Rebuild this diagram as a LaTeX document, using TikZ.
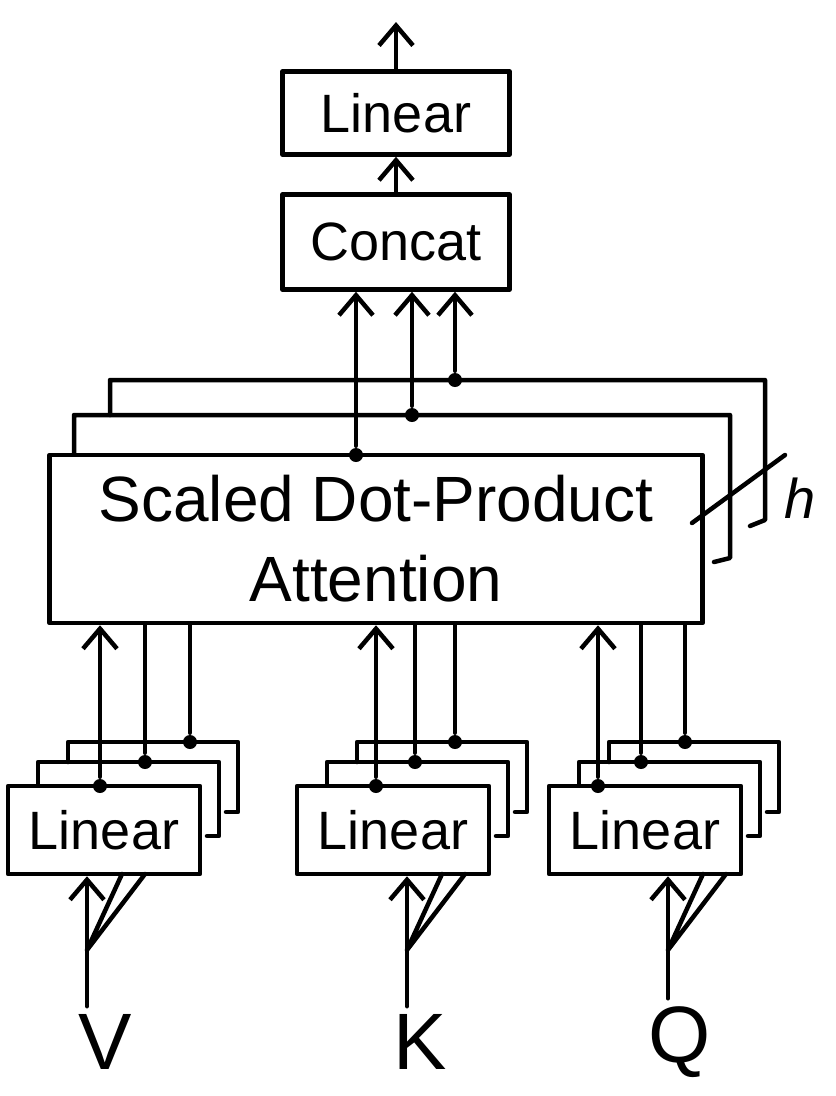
\documentclass[tikz,border=0pt]{standalone}
\usepackage{fontspec}
\setmainfont{Liberation Sans}
\usetikzlibrary{arrows.meta}
\begin{document}
\begin{tikzpicture}[x=1pt, y=-1pt, line width=4.5pt, line cap=round, line join=round,
        boxstyle/.style={draw, fill=white, inner sep=0pt, font=\fontsize{54}{60}\selectfont},
        arrowstyle/.style={-{Straight Barb[length=20pt, width=34pt]}},
        dotstyle/.style={circle, fill, inner sep=0pt, minimum size=14pt}]
            \useasboundingbox (0,0) rectangle (836,1096);

            \node[boxstyle, minimum width=227pt, minimum height=83pt] (linout) at (396,113) {Linear};
            \node[boxstyle, minimum width=227pt, minimum height=95pt] (concat) at (396,242) {Concat};
            \coordinate (out) at (396,22);
            \draw[arrowstyle] (linout) -- (out);
            \draw[arrowstyle] (concat) -- (linout);

            \draw (110,415) |- (765,380) -- (765,520) -- (750,526);
            \draw (74,455) |- (730,415) -- (730,558) -- (714,562);
            \node[boxstyle, minimum width=653pt, minimum height=168pt, align=center,
                font=\fontsize{64}{80}\selectfont] (sdpa) at (376,539) {Scaled Dot-Product\\Attention};
            \draw (692,523) -- (785,455);
            \node[font=\fontsize{56}{60}\selectfont\itshape] (heads) at (800,498) {h};

            \foreach \i/\x/\y in {1/356/455, 2/412/415, 3/455/380}{
                    \node[dotstyle] (s\i) at (\x,\y) {};
                    \draw[arrowstyle] (s\i) -- (s\i |- concat.south);
                }

            \foreach \n/\cx/\ax/\bx/\ccx/\inx/\lx/\lab in {v/104/100/145/190/87/105/V, k/393/376/415/455/407/420/K, q/645/598/641/685/668/680/Q}{
                    \draw ({\cx-36},762) |- ({\cx+134},742) -- ({\cx+134},812) -- ({\cx+122},812);
                    \draw ({\cx-66},786) |- ({\cx+115},762) -- ({\cx+115},836) -- ({\cx+103},836);
                    \node[boxstyle, minimum width=192pt, minimum height=88pt] (lin\n) at (\cx,830) {Linear};
                    \node[dotstyle] (d\n1) at (\ax,786) {};
                    \node[dotstyle] (d\n2) at (\bx,762) {};
                    \node[dotstyle] (d\n3) at (\ccx,742) {};
                    \draw[arrowstyle] (d\n1) -- (d\n1 |- sdpa.south);
                    \draw (d\n2) -- (d\n2 |- sdpa.south) (d\n3) -- (d\n3 |- sdpa.south);
                    \node[font=\fontsize{80}{80}\selectfont, inner sep=6pt] (lab\n) at (\lx,1042) {\lab};
                    \coordinate (fork\n) at (\inx,950);
                    \draw[arrowstyle] (fork\n |- lab\n.north) -- (fork\n |- lin\n.south);
                    \draw (fork\n) -- ++(35,-76) (fork\n) -- ++(58,-76);
                }
        \end{tikzpicture}
\end{document}
